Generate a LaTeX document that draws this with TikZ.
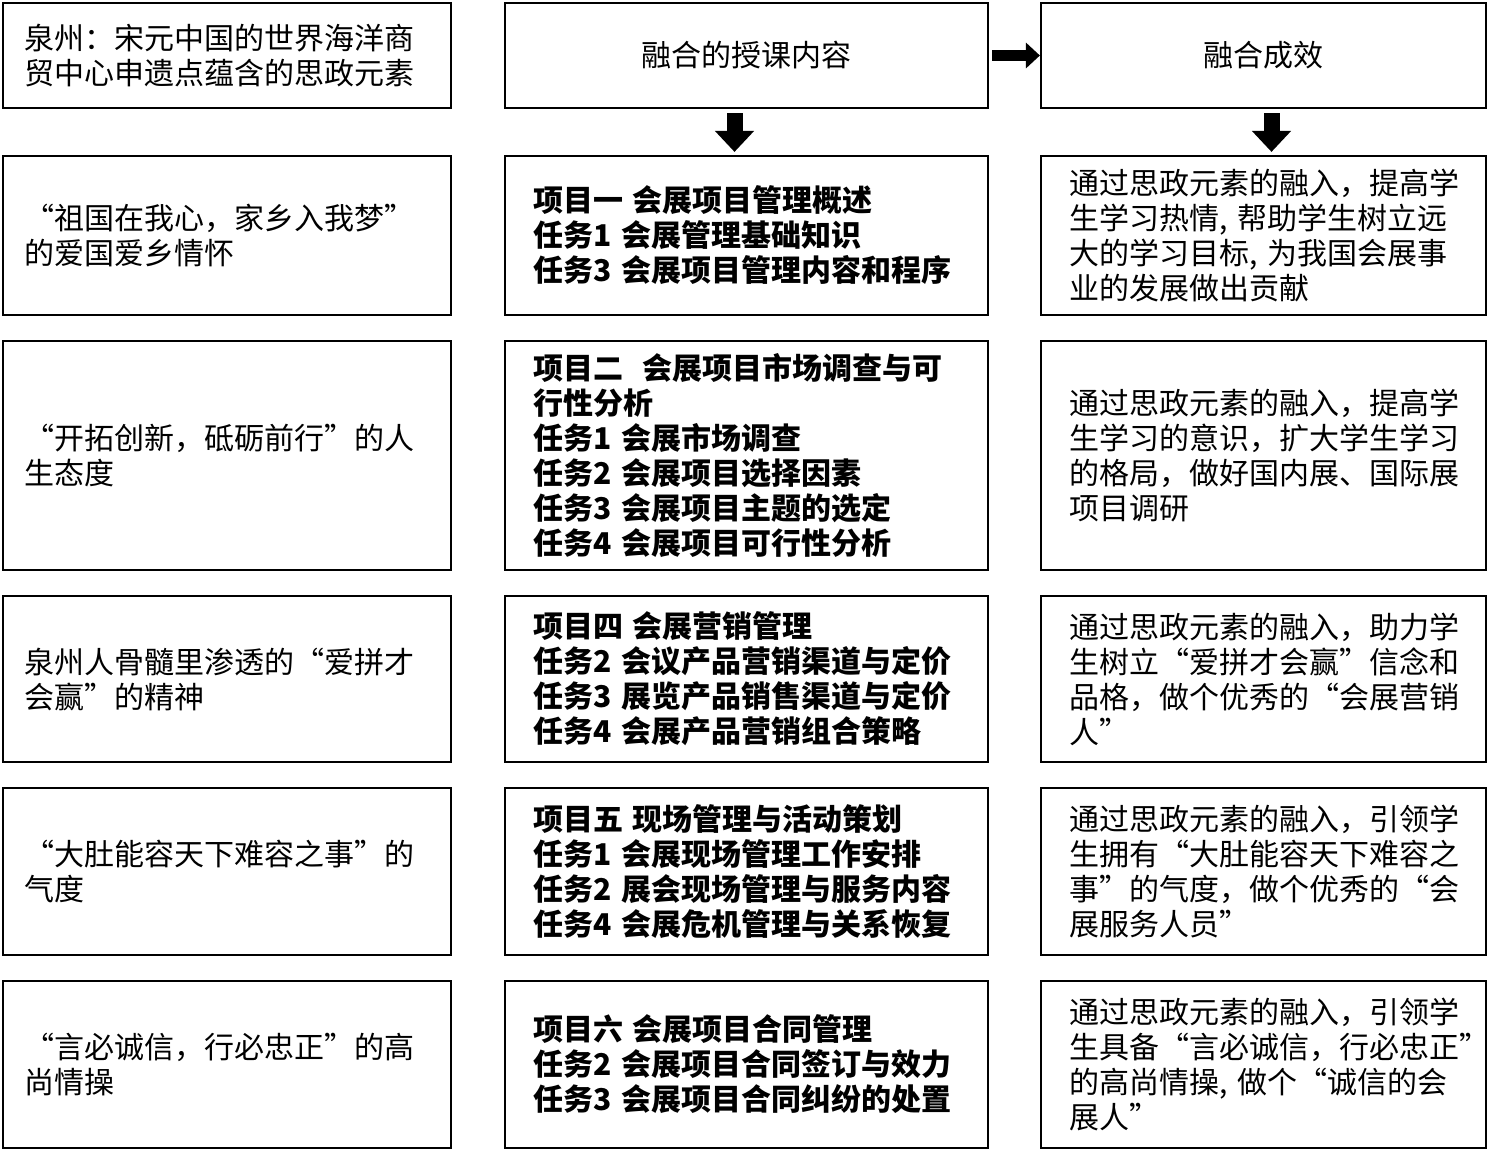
\documentclass[tikz,border=0pt]{standalone}
\usepackage{fontspec}
\setmainfont{Noto Sans CJK SC}
\usetikzlibrary{arrows.meta}
\begin{document}
\begin{tikzpicture}[x=0.5pt,y=-0.5pt,
  box/.style={draw, line width=1.1pt, inner sep=0pt, font=\fontsize{15}{17.5}\selectfont},
  lbox/.style={box, minimum width=224pt, text width=202pt, align=left},
  mbox/.style={box, minimum width=241.5pt, text width=213.5pt, align=left, font=\fontsize{15}{17.5}\selectfont\bfseries},
  rbox/.style={box, minimum width=222.5pt, text width=194.5pt, align=left},
  hbox/.style={box, align=center},
  downarrow/.style={line width=8pt, -{Triangle[width=19pt,length=10.5pt]}, shorten <=2pt, shorten >=1.5pt},
  rightarrow/.style={line width=5.5pt, -{Triangle[width=12.5pt,length=7pt]}, shorten <=1.5pt, shorten >=0pt}
]
\useasboundingbox (0,0) rectangle (1489,1152);

% header row
\node[lbox, minimum height=52.5pt] (h1) at (227,55.5) {泉州：宋元中国的世界海洋商\\贸中心申遗点蕴含的思政元素};
\node[hbox, minimum width=241.5pt, minimum height=52.5pt] (h2) at (746.5,55.5) {融合的授课内容};
\node[hbox, minimum width=222.5pt, minimum height=52.5pt] (h3) at (1263.5,55.5) {融合成效};

% row 1
\node[lbox, minimum height=79.5pt] (l1) at (227,235.5) {“祖国在我心，家乡入我梦”\\的爱国爱乡情怀};
\node[mbox, minimum height=79.5pt] (m1) at (746.5,235.5) {项目一 会展项目管理概述\\任务1 会展管理基础知识\\任务3 会展项目管理内容和程序};
\node[rbox, minimum height=79.5pt] (r1) at (1263.5,235.5) {通过思政元素的融入，提高学\\生学习热情, 帮助学生树立远\\大的学习目标, 为我国会展事\\业的发展做出贡献};

% row 2
\node[lbox, minimum height=114.5pt] (l2) at (227,455.5) {“开拓创新，砥砺前行”的人\\生态度};
\node[mbox, minimum height=114.5pt] (m2) at (746.5,455.5) {项目二\ \ 会展项目市场调查与可\\行性分析\\任务1 会展市场调查\\任务2 会展项目选择因素\\任务3 会展项目主题的选定\\任务4 会展项目可行性分析};
\node[rbox, minimum height=114.5pt] (r2) at (1263.5,455.5) {通过思政元素的融入，提高学\\生学习的意识，扩大学生学习\\的格局，做好国内展、国际展\\项目调研};

% row 3
\node[lbox, minimum height=83pt] (l3) at (227,679) {泉州人骨髓里渗透的“爱拼才\\会赢”的精神};
\node[mbox, minimum height=83pt] (m3) at (746.5,679) {项目四 会展营销管理\\任务2 会议产品营销渠道与定价\\任务3 展览产品销售渠道与定价\\任务4 会展产品营销组合策略};
\node[rbox, minimum height=83pt] (r3) at (1263.5,679) {通过思政元素的融入，助力学\\生树立“爱拼才会赢”信念和\\品格，做个优秀的“会展营销\\人”};

% row 4
\node[lbox, minimum height=83.5pt] (l4) at (227,871.5) {“大肚能容天下难容之事”的\\气度};
\node[mbox, minimum height=83.5pt] (m4) at (746.5,871.5) {项目五 现场管理与活动策划\\任务1 会展现场管理工作安排\\任务2 展会现场管理与服务内容\\任务4 会展危机管理与关系恢复};
\node[rbox, minimum height=83.5pt] (r4) at (1263.5,871.5) {通过思政元素的融入，引领学\\生拥有“大肚能容天下难容之\\事”的气度，做个优秀的“会\\展服务人员”};

% row 5
\node[lbox, minimum height=83.5pt] (l5) at (227,1064.5) {“言必诚信，行必忠正”的高\\尚情操};
\node[mbox, minimum height=83.5pt] (m5) at (746.5,1064.5) {项目六 会展项目合同管理\\任务2 会展项目合同签订与效力\\任务3 会展项目合同纠纷的处置};
\node[rbox, minimum height=83.5pt] (r5) at (1263.5,1064.5) {通过思政元素的融入，引领学\\生具备“言必诚信，行必忠正”\\的高尚情操, 做个“诚信的会\\展人”};

% arrows
\draw[rightarrow] (h2.east) -- (h3.west);
\draw[downarrow] ([xshift=-6]h2.south) -- ([xshift=-6]m1.north);
\draw[downarrow] ([xshift=4]h3.south) -- ([xshift=4]r1.north);
\end{tikzpicture}
\end{document}
